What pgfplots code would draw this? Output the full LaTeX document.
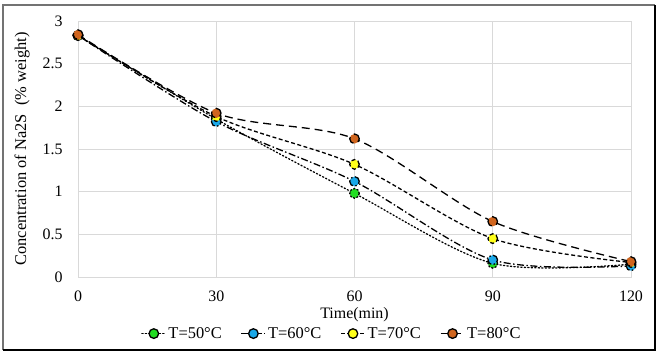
\documentclass[border=0pt]{standalone}
\usepackage{pgfplots}
\pgfplotsset{compat=1.18}
\usepackage{fontspec}
\setmainfont{Liberation Serif}
\definecolor{cgreen}{HTML}{22DD22}
\definecolor{cblue}{HTML}{1AA8E8}
\definecolor{cyellow}{HTML}{FFFF1A}
\definecolor{corange}{HTML}{D0651E}
\definecolor{gridc}{HTML}{D9D9D9}
\begin{document}
\begin{tikzpicture}[x=1bp,y=1bp]
\useasboundingbox (-78,-78) rectangle (581,277);
\begin{axis}[
  at={(0,0)}, anchor=origin,
  scale only axis, width=553bp, height=256bp,
  xmin=0, xmax=120, ymin=0, ymax=3,
  xtick={0,30,60,90,120}, ytick={0,0.5,...,3},
  yticklabels={0,0.5,1,1.5,2,2.5,3},
  grid=major, major grid style={draw=gridc, line width=0.6pt},
  axis line style={draw=gridc, line width=0.6pt},
  tick style={draw=none},
  tick label style={font=\fontsize{16}{18}\selectfont},
  /pgf/number format/assume math mode=true,
  xticklabel style={anchor=center, yshift=-19bp},
  yticklabel style={anchor=east, xshift=-12bp},
  xlabel={Time(min)},
  xlabel style={font=\fontsize{16}{18}\selectfont, at={(axis description cs:0.5,0)}, anchor=center, yshift=-38bp},
  ylabel={Concentration of Na2S \ (\% weight)},
  ylabel style={font=\fontsize{16.5}{18}\selectfont, at={(axis description cs:0,0.5)}, anchor=center, yshift=56bp},
  legend style={at={(0.459,-0.221)}, anchor=center, draw=none, fill=none,
    legend columns=4, font=\fontsize{16.5}{18}\selectfont,
    /tikz/every even column/.append style={column sep=17bp}},
  legend image code/.code={
    \draw[#1] (0bp,0bp) -- (24bp,0bp);
    \draw[#1, solid, mark repeat=1] plot coordinates {(12bp,0bp)};
  },
  every axis plot/.append style={black, line width=1.3pt, smooth, tension=0.5,
    mark=*, mark size=4.8bp,
    mark options={solid, draw=black!75, line width=0.5pt}},
]
\addplot[dotted, dash pattern=on 1.3pt off 2.2pt, line cap=round, mark options={fill=cgreen}]
  coordinates {(0,2.83) (30,1.85) (60,0.98) (90,0.16) (120,0.15)};
\addlegendentry{T=50°C}
\addplot[dash pattern=on 7pt off 2.5pt on 1.5pt off 2.5pt, mark options={fill=cblue}]
  coordinates {(0,2.83) (30,1.82) (60,1.12) (90,0.20) (120,0.13)};
\addlegendentry{T=60°C}
\addplot[dash pattern=on 4pt off 2.5pt, mark options={fill=cyellow}]
  coordinates {(0,2.83) (30,1.88) (60,1.32) (90,0.45) (120,0.17)};
\addlegendentry{T=70°C}
\addplot[dash pattern=on 8pt off 5pt, mark options={fill=corange}]
  coordinates {(0,2.84) (30,1.92) (60,1.62) (90,0.65) (120,0.18)};
\addlegendentry{T=80°C}
\end{axis}
\draw[draw=black!55, line width=1.2pt] (-75,-73) -- (-75,272) -- (577,272);
\draw[draw=black, line width=2.2pt] (577,272) -- (577,-73) -- (-75,-73);
\end{tikzpicture}
\end{document}
